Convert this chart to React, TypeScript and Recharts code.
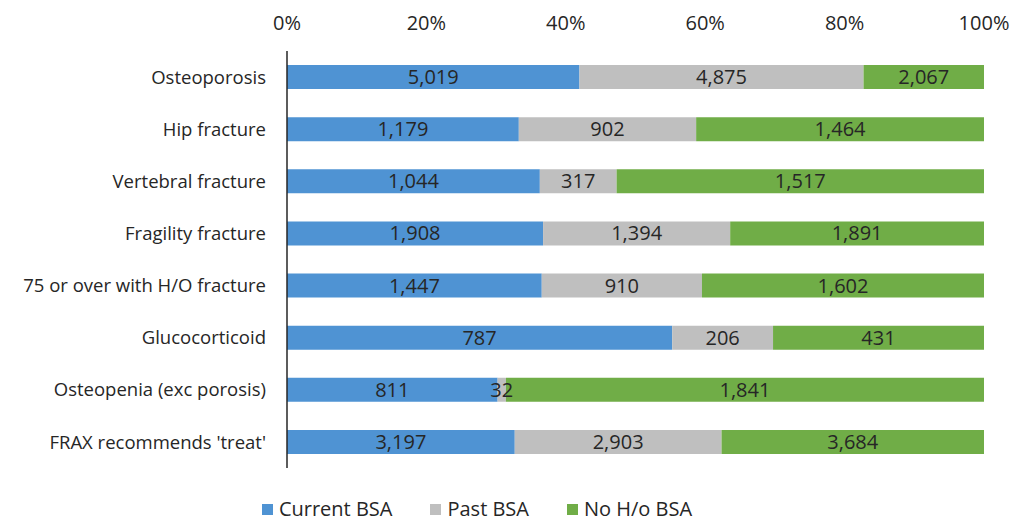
import React from "react";
import { BarChart, Bar, XAxis, YAxis, LabelList, Legend } from "recharts";

const CATEGORIES = [
  "Osteoporosis",
  "Hip fracture",
  "Vertebral fracture",
  "Fragility fracture",
  "75 or over with H/O fracture",
  "Glucocorticoid",
  "Osteopenia (exc porosis)",
  "FRAX recommends 'treat'",
];
const CURRENT = [5019, 1179, 1044, 1908, 1447, 787, 811, 3197];
const PAST = [4875, 902, 317, 1394, 910, 206, 32, 2903];
const NONE = [2067, 1464, 1517, 1891, 1602, 431, 1841, 3684];
const X_TICKS = [0, 0.2, 0.4, 0.6, 0.8, 1];

const SERIES = [
  { key: "current", name: "Current BSA", color: "#4F93D3" },
  { key: "past", name: "Past BSA", color: "#BFBFBF" },
  { key: "none", name: "No H/o BSA", color: "#70AD47" },
];

const data = CATEGORIES.map((name, i) => ({
  name,
  current: CURRENT[i],
  past: PAST[i],
  none: NONE[i],
}));

const FONT = "'Open Sans', sans-serif";
const TEXT = "#262626";

const fmt = (v: number) => v.toLocaleString("en-US");

function LegendBox() {
  return (
    <div style={{ display: "flex", justifyContent: "center", gap: 38, fontFamily: FONT, fontSize: 20, lineHeight: "22px", color: TEXT, paddingTop: 30, paddingRight: 30 }}>
      {SERIES.map(s => (
        <div key={s.key} style={{ display: "flex", alignItems: "center", gap: 6 }}>
          <div style={{ width: 11, height: 11, background: s.color }} />
          <span>{s.name}</span>
        </div>
      ))}
    </div>
  );
}

export default function App() {
  return (
    <div style={{ position: "absolute", left: 0, top: 0, width: 1035, height: 520, background: "#fff" }}>
      <BarChart
        width={1035}
        height={520}
        data={data}
        layout="vertical"
        stackOffset="expand"
        margin={{ top: 0, right: 51, bottom: 0, left: 0 }}
      >
        <XAxis
          type="number"
          orientation="top"
          domain={[0, 1]}
          ticks={X_TICKS}
          tickFormatter={v => `${Math.round(v * 100)}%`}
          axisLine={false}
          tickLine={false}
          tickSize={0}
          tickMargin={21}
          height={51}
          tick={{ fontSize: 20, fill: TEXT, fontFamily: FONT }}
        />
        <YAxis
          type="category"
          dataKey="name"
          width={287}
          axisLine={{ stroke: "#262626", strokeWidth: 1.5 }}
          tickLine={false}
          tickSize={0}
          tickMargin={21}
          tick={{ fontSize: 18.5, fill: TEXT, fontFamily: FONT }}
          interval={0}
        />
        <Legend verticalAlign="bottom" height={52} content={() => <LegendBox />} />
        {SERIES.map(s => (
          <Bar key={s.key} dataKey={s.key} name={s.name} stackId="a" fill={s.color} barSize={24} isAnimationActive={false}>
            <LabelList
              dataKey={s.key}
              position="center"
              formatter={(v: any) => fmt(Number(v))}
              style={{ fontSize: 20, fill: TEXT, fontFamily: FONT }}
            />
          </Bar>
        ))}
      </BarChart>
    </div>
  );
}
